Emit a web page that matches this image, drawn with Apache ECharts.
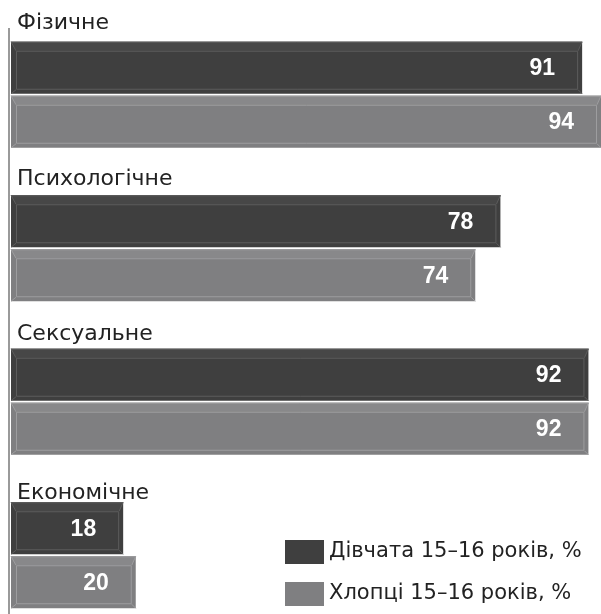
<!DOCTYPE html>
<html>
<head>
<meta charset="utf-8">
<script src="https://cdn.jsdelivr.net/npm/echarts@6/dist/echarts.min.js"></script>
<style>html,body{margin:0;padding:0;background:#fff;}#c{width:601px;height:614px;}</style>
</head>
<body>
<div id="c"></div>
<script>
const categories = ['Фізичне', 'Психологічне', 'Сексуальне', 'Економічне'];
const girls = [91, 78, 92, 18];
const boys = [94, 74, 92, 20];
const seriesNames = ['Дівчата 15–16 років, %', 'Хлопці 15–16 років, %'];

const DARK = '#3f3f3f', DARK_TOP = '#474747', DARK_LINE = '#5c5c5c';
const LIGHT = '#7f7f81', LIGHT_TOP = '#88888a', LIGHT_LINE = '#9d9d9f';

function makeRender(which, fill, topFill, line) {
  return function (params, api) {
    const cat = api.value(0);
    const val = api.value(1);
    const start = api.coord([0, cat]);
    const end = api.coord([val, cat]);
    const cy = start[1];
    const h = 52;
    const y0 = which === 0 ? cy - 53 : cy + 1;
    const x0 = start[0] + 1;
    const x1 = end[0];
    const it = 9, il = 5, ir = 4, ib = 4;
    const ix0 = x0 + il, ix1 = x1 - ir, iy0 = y0 + it, iy1 = y0 + h - ib;
    const st = { stroke: line, lineWidth: 1 };
    return {
      type: 'group',
      children: [
        { type: 'rect', shape: { x: x0, y: y0, width: x1 - x0, height: h }, style: { fill: fill } },
        { type: 'polygon', shape: { points: [[x0, y0], [x1, y0], [ix1, iy0], [ix0, iy0]] }, style: { fill: topFill } },
        { type: 'rect', shape: { x: ix0 + 0.5, y: iy0 + 0.5, width: ix1 - ix0 - 1, height: iy1 - iy0 - 1 }, style: { fill: 'none', stroke: line, lineWidth: 1 } },
        { type: 'line', shape: { x1: x0, y1: y0, x2: ix0, y2: iy0 }, style: st },
        { type: 'line', shape: { x1: x1, y1: y0, x2: ix1, y2: iy0 }, style: st },
        { type: 'line', shape: { x1: x0, y1: y0 + h, x2: ix0, y2: iy1 }, style: st },
        { type: 'line', shape: { x1: x1, y1: y0 + h, x2: ix1, y2: iy1 }, style: st },
        { type: 'line', shape: { x1: x0, y1: y0 + 0.5, x2: x1, y2: y0 + 0.5 }, style: { stroke: line, lineWidth: 1 } },
        { type: 'text', style: { text: String(val), x: x1 - 27, y: y0 + h / 2 + 1, align: 'right', verticalAlign: 'middle', fill: '#ffffff', font: 'bold 23px "Liberation Sans", Arial, sans-serif' } }
      ]
    };
  };
}

const labelLift = [142, 137, 134, 123];
const labelFont = { color: '#222222', fontSize: 22, fontFamily: '"DejaVu Sans", sans-serif' };
const rich = {};
labelLift.forEach((p, i) => { rich['t' + i] = Object.assign({ padding: [0, 0, p, 0] }, labelFont); });

const chart = echarts.init(document.getElementById('c'), null, { renderer: 'canvas' });
chart.setOption({
  animation: false,
  backgroundColor: '#ffffff',
  grid: { left: 10, top: 18, width: 591, height: 614, outerBoundsMode: 'none', containLabel: false },
  xAxis: { type: 'value', min: 0, max: 94, show: false },
  yAxis: {
    type: 'category', data: categories, inverse: true,
    axisLine: { show: false }, axisTick: { show: false }, splitLine: { show: false },
    axisLabel: {
      inside: true, margin: 7, verticalAlign: 'middle',
      formatter: function (value, index) { return '{t' + index + '|' + value + '}'; },
      rich: rich
    }
  },
  legend: {
    orient: 'vertical', left: 285, top: 540, height: 90, itemWidth: 39, itemHeight: 24, itemGap: 18,
    icon: 'rect', selectedMode: false, padding: 0,
    textStyle: { fontSize: 21, color: '#222222', fontFamily: '"DejaVu Sans", sans-serif' },
    data: seriesNames
  },
  graphic: [
    { type: 'line', shape: { x1: 9, y1: 28, x2: 9, y2: 614 }, style: { stroke: '#9a9a9a', lineWidth: 2 }, z: 10 }
  ],
  series: [
    {
      name: seriesNames[0], type: 'custom', itemStyle: { color: DARK },
      renderItem: makeRender(0, DARK, DARK_TOP, DARK_LINE),
      encode: { x: 1, y: 0 },
      data: girls.map((v, i) => [i, v])
    },
    {
      name: seriesNames[1], type: 'custom', itemStyle: { color: LIGHT },
      renderItem: makeRender(1, LIGHT, LIGHT_TOP, LIGHT_LINE),
      encode: { x: 1, y: 0 },
      data: boys.map((v, i) => [i, v])
    }
  ]
});
</script>
</body>
</html>
